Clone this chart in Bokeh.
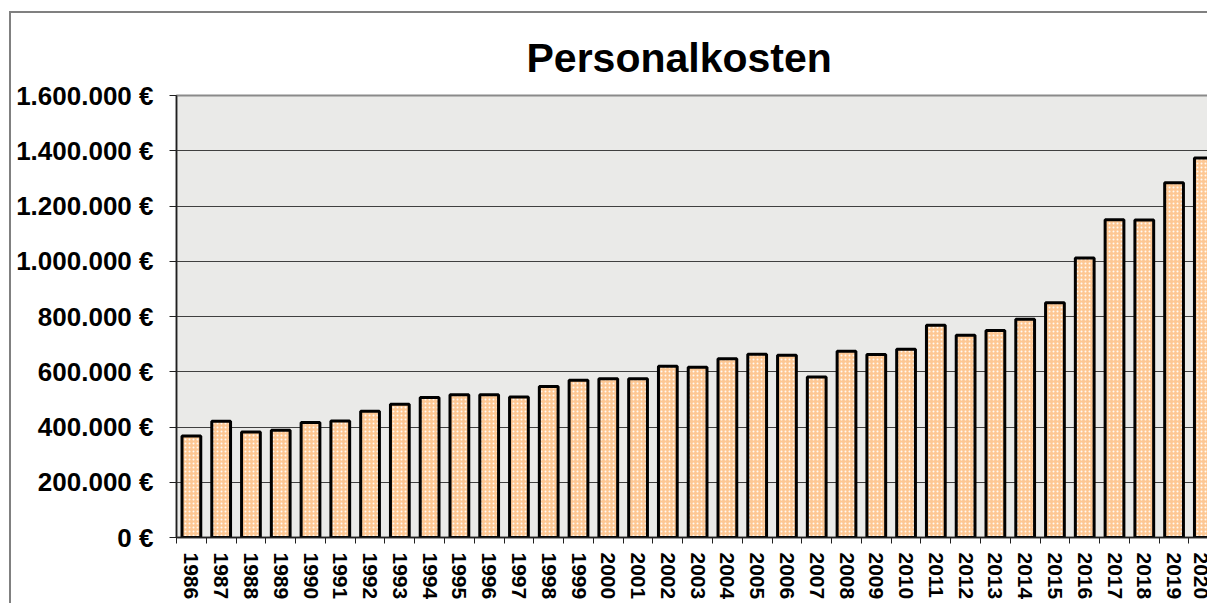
import math
from bokeh.plotting import figure
from bokeh.models import ColumnDataSource, Range1d, FixedTicker
from bokeh.embed import file_html
from bokeh.resources import INLINE

years = [str(y) for y in range(1986, 2021)]
kosten = [367000, 421000, 382000, 388000, 416000, 422000, 457000, 482000, 507000, 517000,
          517000, 509000, 547000, 569000, 575000, 575000, 620000, 616000, 647000, 663000,
          660000, 581000, 674000, 662000, 681000, 768000, 732000, 749000, 790000, 850000,
          1012000, 1150000, 1149000, 1284000, 1374000]
y_ticks = [0, 200000, 400000, 600000, 800000, 1000000, 1200000, 1400000, 1600000]
y_tick_labels = ["0 €", "200.000 €", "400.000 €", "600.000 €", "800.000 €",
                 "1.000.000 €", "1.200.000 €", "1.400.000 €", "1.600.000 €"]
title_text = "Personalkosten"

idx = list(range(len(years)))
src = ColumnDataSource(dict(x=idx, top=kosten, year=years))

FONT = "Liberation Sans"

p = figure(width=1198, height=592, output_backend="svg", toolbar_location=None,
           x_range=Range1d(-0.5, 34.19), y_range=Range1d(0, 1600000),
           min_border_left=165, min_border_top=82, min_border_bottom=68, min_border_right=0,
           title=title_text)
p.margin = (11, 0, 0, 9)
p.styles = {"border-top": "2px solid #808080", "border-left": "2px solid #808080"}

p.title.text_font = FONT
p.title.text_font_size = "41px"
p.title.text_font_style = "bold"
p.title.text_color = "black"
p.title.align = "left"
p.title.offset = 350
p.title.standoff = 29

p.background_fill_color = "#eaeae8"
p.border_fill_color = "white"
p.outline_line_color = "#8a8a8a"
p.outline_line_width = 2

p.vbar(x="x", top="top", width=0.63, source=src, fill_color="#fdc793",
       hatch_pattern="dot", hatch_color="white", hatch_scale=4, hatch_weight=2,
       hatch_alpha=0.9, line_color="black", line_width=3)

p.xgrid.grid_line_color = None
p.ygrid.grid_line_color = "#404040"
p.ygrid.grid_line_width = 1
p.ygrid.ticker = FixedTicker(ticks=y_ticks)

p.yaxis.ticker = FixedTicker(ticks=y_ticks)
p.yaxis.major_label_overrides = {t: l for t, l in zip(y_ticks, y_tick_labels)}
p.yaxis.major_label_text_font = FONT
p.yaxis.major_label_text_font_size = "26px"
p.yaxis.major_label_text_font_style = "bold"
p.yaxis.major_label_text_color = "black"
p.yaxis.major_tick_out = 7
p.yaxis.major_tick_in = 0
p.yaxis.minor_tick_line_color = None
p.yaxis.major_tick_line_color = "#202020"
p.yaxis.axis_line_color = "#202020"
p.yaxis.axis_line_width = 1.5
p.yaxis.major_label_standoff = 16

p.xaxis.ticker = FixedTicker(ticks=idx, minor_ticks=[i - 0.5 for i in range(len(years) + 1)])
p.xaxis.major_label_overrides = {i: y for i, y in zip(idx, years)}
p.xaxis.major_label_orientation = -math.pi / 2
p.xaxis.major_label_text_font = FONT
p.xaxis.major_label_text_font_size = "21px"
p.xaxis.major_label_text_font_style = "bold"
p.xaxis.major_label_text_color = "black"
p.xaxis.major_tick_line_color = None
p.xaxis.major_tick_out = 6
p.xaxis.major_tick_in = 0
p.xaxis.minor_tick_out = 6
p.xaxis.minor_tick_in = 0
p.xaxis.minor_tick_line_color = "#202020"
p.xaxis.axis_line_color = "#202020"
p.xaxis.axis_line_width = 1.5
p.xaxis.major_label_standoff = 9

open("out.html", "w").write(file_html(p, INLINE))
